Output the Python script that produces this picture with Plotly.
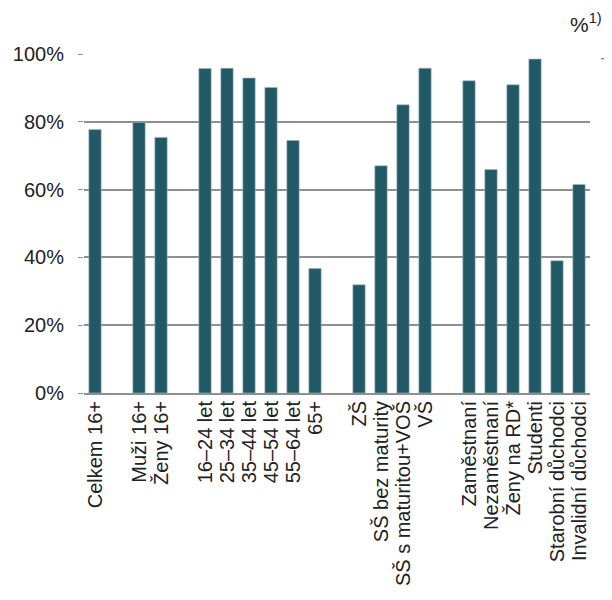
import plotly.graph_objects as go

# categories (blank strings are spacer slots between groups)
categories = [
    "Celkem 16+", " ",
    "Muži 16+", "Ženy 16+", "  ",
    "16–24 let", "25–34 let", "35–44 let", "45–54 let", "55–64 let", "65+", "   ",
    "ZŠ", "SŠ bez maturity", "SŠ s maturitou+VOŠ", "VŠ", "    ",
    "Zaměstnaní", "Nezaměstnaní", "Ženy na RD*", "Studenti", "Starobní důchodci", "Invalidní důchodci",
]
values = [
    77.7, None,
    79.8, 75.4, None,
    95.7, 95.8, 92.9, 90.1, 74.5, 36.7, None,
    31.9, 67.0, 85.0, 95.8, None,
    92.1, 65.9, 90.9, 98.5, 39.0, 61.5,
]
y_ticks = [0, 20, 40, 60, 80, 100]
y_ticktext = ["0%", "20%", "40%", "60%", "80%", "100%"]

BAR = "#215966"
GRID = "#8f8f8f"
TEXT = "#222222"

fig = go.Figure(go.Bar(
    x=categories, y=values,
    marker=dict(color=BAR, line=dict(color="#9db8bf", width=0.6)),
))

fig.update_layout(
    width=604, height=592,
    margin=dict(l=76, r=22, t=46, b=207, autoexpand=False),
    paper_bgcolor="white", plot_bgcolor="white",
    bargap=0.44,
    showlegend=False,
    font=dict(family="Liberation Sans, Arial, sans-serif", size=20, color=TEXT),
    xaxis=dict(
        type="category", categoryorder="array", categoryarray=categories,
        tickmode="array", tickvals=categories, ticktext=categories,
        tickangle=-90, ticks="", showgrid=False,
        showline=True, linecolor=GRID, linewidth=2,
        tickfont=dict(size=20, color=TEXT), automargin=False,
        ticklabelstandoff=-2,
    ),
    yaxis=dict(
        range=[0, 100], tickmode="array", tickvals=y_ticks, ticktext=y_ticktext,
        showgrid=True, gridcolor=GRID, gridwidth=2,
        zeroline=False, showline=False,
        ticks="outside", ticklen=5, tickcolor=GRID, tickwidth=1,
        tickfont=dict(size=20, color=TEXT), automargin=False,
        ticklabelstandoff=10,
    ),
    annotations=[
        dict(text="%<sup>1)</sup>", xref="paper", yref="paper",
             x=1.027, y=1.09, xanchor="right", yanchor="middle",
             showarrow=False, font=dict(size=21, color=TEXT)),
    ],
    shapes=[
        dict(type="line", xref="paper", yref="paper",
             x0=1.022, x1=1.032, y0=0.986, y1=0.986,
             line=dict(color="#555555", width=1)),
    ],
)

fig.write_html("out.html")
